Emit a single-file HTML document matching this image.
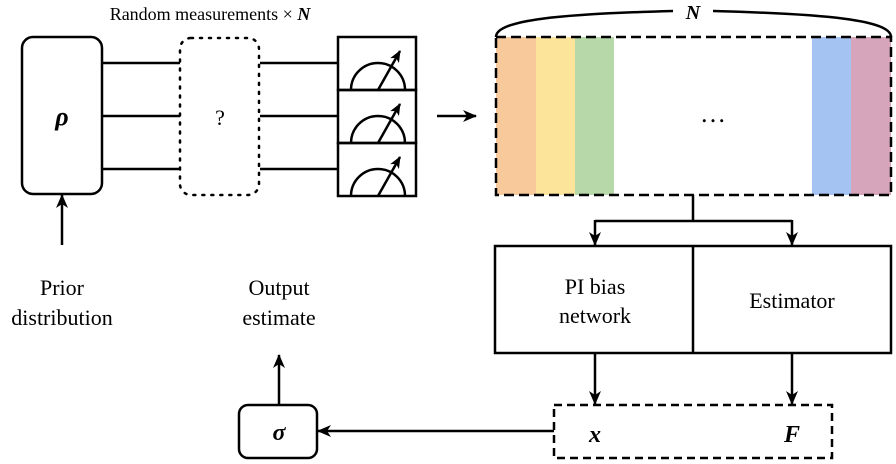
<!DOCTYPE html>
<html><head><style>body{margin:0;background:#fff}svg{display:block}</style></head><body>
<svg width="896" height="464" viewBox="0 0 896 464" xmlns="http://www.w3.org/2000/svg" font-family="Liberation Serif, serif">
<defs>
<marker id="a" markerWidth="14" markerHeight="12" refX="13" refY="6" orient="auto" markerUnits="userSpaceOnUse"><path d="M0,0 L14,6 L0,12 L4,6 Z" fill="#000"/></marker>
<marker id="b" markerWidth="12" markerHeight="10" refX="11" refY="5" orient="auto" markerUnits="userSpaceOnUse"><path d="M0,0 L12,5 L0,10 L3,5 Z" fill="#000"/></marker>
<g id="m"><rect x="338" y="0" width="78" height="53" fill="none" stroke="#000" stroke-width="2.5"/><path d="M351,53 A27,27 0 0 1 405,53" fill="none" stroke="#000" stroke-width="2.5"/><line x1="378" y1="53" x2="400" y2="14" stroke="#000" stroke-width="2.5" marker-end="url(#b)"/></g>
</defs>
<text x="210" y="20" font-size="18" text-anchor="middle">Random measurements × <tspan font-style="italic" font-weight="bold">N</tspan></text>
<g stroke="#000" stroke-width="2.5" fill="none">
<line x1="102" y1="63" x2="180" y2="63"/><line x1="102" y1="116" x2="180" y2="116"/><line x1="102" y1="169" x2="180" y2="169"/>
<line x1="260" y1="63" x2="338" y2="63"/><line x1="260" y1="116" x2="338" y2="116"/><line x1="260" y1="169" x2="338" y2="169"/>
<rect x="22" y="37" width="80" height="157" rx="11" fill="#fff"/>
<rect x="180" y="38" width="79" height="157" rx="11" stroke-dasharray="2,7" stroke-linecap="round"/>
</g>
<use href="#m" y="37"/><use href="#m" y="90"/><use href="#m" y="143"/>
<text x="62" y="125" font-size="26" font-weight="bold" font-style="italic" text-anchor="middle">ρ</text>
<text x="220" y="125" font-size="22" text-anchor="middle">?</text>
<line x1="437" y1="116" x2="476" y2="116" stroke="#000" stroke-width="2.5" marker-end="url(#a)"/>
<rect x="496" y="37" width="40" height="158" fill="#f7c99b"/>
<rect x="536" y="37" width="39" height="158" fill="#fde49b"/>
<rect x="575" y="37" width="39" height="158" fill="#b7d8a8"/>
<rect x="812" y="37" width="39" height="158" fill="#a4c2f2"/>
<rect x="851" y="37" width="40" height="158" fill="#d6a5bc"/>
<rect x="496" y="37" width="395" height="158" fill="none" stroke="#000" stroke-width="2.5" stroke-dasharray="10,5"/>
<text x="713" y="122" font-size="26" text-anchor="middle">…</text>
<path d="M496,37 C496,20 560,14 673,11 M713,11 C826,14 891,20 891,37" fill="none" stroke="#000" stroke-width="2.5"/>
<text x="693" y="19" font-size="20" font-style="italic" font-weight="bold" text-anchor="middle">N</text>
<g stroke="#000" stroke-width="2.5" fill="none">
<path d="M693,195 V221 M595,221 H792"/>
<line x1="595" y1="220" x2="595" y2="245" marker-end="url(#a)"/>
<line x1="792" y1="220" x2="792" y2="245" marker-end="url(#a)"/>
<rect x="495" y="246" width="396" height="107"/><line x1="693" y1="246" x2="693" y2="353"/>
<line x1="595" y1="353" x2="595" y2="404" marker-end="url(#a)"/>
<line x1="792" y1="353" x2="792" y2="404" marker-end="url(#a)"/>
<rect x="554" y="405" width="278" height="53" stroke-dasharray="8,5"/>
<line x1="554" y1="431" x2="318" y2="431" marker-end="url(#a)"/>
<rect x="239" y="405" width="78" height="53" rx="9"/>
<line x1="279" y1="405" x2="279" y2="355" marker-end="url(#a)"/>
<line x1="62" y1="245" x2="62" y2="195" marker-end="url(#a)"/>
</g>
<g font-size="22" text-anchor="middle">
<text x="595" y="294">PI bias</text><text x="595" y="323">network</text>
<text x="792" y="308">Estimator</text>
<text x="62" y="295">Prior</text><text x="62" y="325">distribution</text>
<text x="279" y="295">Output</text><text x="279" y="325">estimate</text>
</g>
<text x="279" y="440" font-size="24" font-weight="bold" font-style="italic" text-anchor="middle">σ</text>
<text x="595" y="442" font-size="24" font-weight="bold" font-style="italic" text-anchor="middle">x</text>
<text x="792" y="442" font-size="24" font-weight="bold" font-style="italic" text-anchor="middle">F</text>
</svg>
</body></html>
